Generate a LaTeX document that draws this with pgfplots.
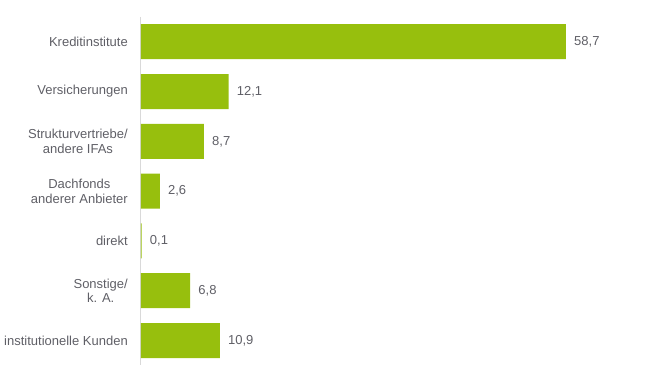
\documentclass[border=0pt]{standalone}
\usepackage{pgfplots}
\pgfplotsset{compat=1.18}
\usepackage{fontspec}
\setmainfont{Liberation Sans}
\definecolor{bargreen}{HTML}{97BF0D}
\definecolor{txt}{HTML}{5F5F66}
\definecolor{axisgray}{HTML}{D9D9D9}
\begin{document}
\begin{tikzpicture}
\useasboundingbox (0,0) rectangle (648pt,377pt);
\begin{axis}[
  at={(141pt,11.6pt)}, anchor=south west,
  scale only axis,
  width=434.4pt, height=348.6pt,
  xmin=0, xmax=60,
  ymin=-0.5, ymax=6.5,
  y dir=reverse,
  xbar, bar width=35pt, bar shift=0pt,
  axis x line=none,
  axis y line=left,
  y axis line style={draw=axisgray, line width=1pt, -},
  ytick={0,...,6},
  yticklabels={Kreditinstitute, Versicherungen, {Strukturvertriebe/\\andere IFAs}, {Dachfonds\\anderer Anbieter}, direkt, {Sonstige/\\k. A.}, institutionelle Kunden},
  major tick length=0pt,
  yticklabel style={align=center, inner sep=0pt, xshift=-13pt, font=\fontsize{13}{14.6}\selectfont, text=txt},
  nodes near coords,
  nodes near coords style={anchor=west, inner sep=0pt, xshift=8pt, font=\fontsize{13}{14.6}\selectfont, text=txt, /pgf/number format/.cd, use comma, fixed, precision=1, fixed zerofill, assume math mode=true},
  clip=false,
]
\addplot[fill=bargreen, draw=none] coordinates {
  (58.7,0) (12.1,1) (8.7,2) (2.6,3) (0.1,4) (6.8,5) (10.9,6)
};
\end{axis}
\end{tikzpicture}
\end{document}
